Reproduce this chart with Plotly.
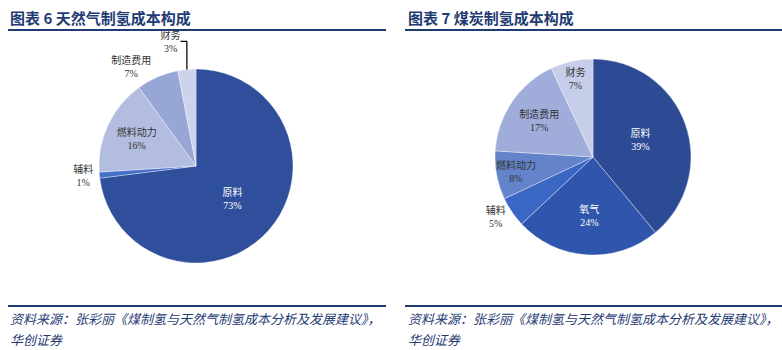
import plotly.graph_objects as go

# ---- data ----
left_title = "图表 6 天然气制氢成本构成"
left_labels = ["原料", "辅料", "燃料动力", "制造费用", "财务"]
left_values = [73, 1, 16, 7, 3]
left_colors = ["#2F4E9B", "#4670C8", "#B3BDDF", "#98A6D6", "#CDD3EA"]
left_pos = ["inside", "outside", "inside", "outside", "outside"]
left_textcol = ["#FFFFFF", "#333333", "#333333", "#333333", "#333333"]

right_title = "图表 7 煤炭制氢成本构成"
right_labels = ["原料", "氧气", "辅料", "燃料动力", "制造费用", "财务"]
right_values = [39, 24, 5, 8, 17, 7]
right_colors = ["#2D4B94", "#2F56AC", "#3A66C4", "#6384CA", "#A0ADDA", "#C6CDE9"]
right_pos = ["inside", "inside", "outside", "inside", "inside", "inside"]
right_textcol = ["#FFFFFF", "#FFFFFF", "#333333", "#333333", "#333333", "#333333"]

source_line1 = "资料来源：张彩丽《煤制氢与天然气制氢成本分析及发展建议》，"
source_line2 = "华创证券"

W, H = 782, 350
LABEL_FONT = "Liberation Serif, Noto Sans CJK SC, serif"
NAVY = "#1F3B73"


def px(x):
    return x / W


def py(y):
    return 1 - y / H


def pie(labels, values, colors, pos, tcol, cx, cy, r):
    return go.Pie(
        labels=labels,
        values=values,
        text=[f"{l}<br>{v}%" for l, v in zip(labels, values)],
        textinfo="text",
        textposition=pos,
        insidetextorientation="horizontal",
        sort=False,
        direction="clockwise",
        rotation=0,
        marker=dict(colors=colors, line=dict(color="rgba(255,255,255,0.6)", width=0.6)),
        textfont=dict(family=LABEL_FONT, size=10, color=tcol),
        domain=dict(x=[px(cx - r), px(cx + r)], y=[py(cy + r), py(cy - r)]),
        showlegend=False,
        hoverinfo="label+percent",
    )


fig = go.Figure()
fig.add_trace(pie(left_labels, left_values, left_colors, left_pos, left_textcol, 196, 166, 97))
fig.add_trace(pie(right_labels, right_values, right_colors, right_pos, right_textcol, 593, 157, 98))

shapes = []
for x0, x1 in [(8, 386), (405, 782)]:
    shapes.append(dict(type="line", xref="paper", yref="paper", x0=px(x0), x1=px(x1),
                       y0=py(30), y1=py(30), line=dict(color=NAVY, width=2)))
    shapes.append(dict(type="line", xref="paper", yref="paper", x0=px(x0), x1=px(x1),
                       y0=py(306), y1=py(306), line=dict(color=NAVY, width=2)))

annotations = []
for x0, t in [(8, left_title), (406, right_title)]:
    annotations.append(dict(text=f"<b>{t}</b>", x=px(x0), y=py(18), xref="paper", yref="paper",
                            xanchor="left", yanchor="middle", showarrow=False,
                            font=dict(family="Noto Sans CJK SC", size=15, color=NAVY)))
    annotations.append(dict(text=f"<i>{source_line1}</i>", x=px(x0), y=py(318), xref="paper",
                            yref="paper", xanchor="left", yanchor="middle", showarrow=False,
                            font=dict(family="Noto Sans CJK SC", size=13, color=NAVY)))
    annotations.append(dict(text=f"<i>{source_line2}</i>", x=px(x0), y=py(339), xref="paper",
                            yref="paper", xanchor="left", yanchor="middle", showarrow=False,
                            font=dict(family="Noto Sans CJK SC", size=13, color=NAVY)))

fig.update_layout(
    width=W, height=H,
    margin=dict(l=0, r=0, t=0, b=0),
    paper_bgcolor="white", plot_bgcolor="white",
    shapes=shapes, annotations=annotations,
    uniformtext=dict(minsize=10, mode="show"),
)

fig.write_html("out.html", include_plotlyjs=True, config={"displayModeBar": False})
